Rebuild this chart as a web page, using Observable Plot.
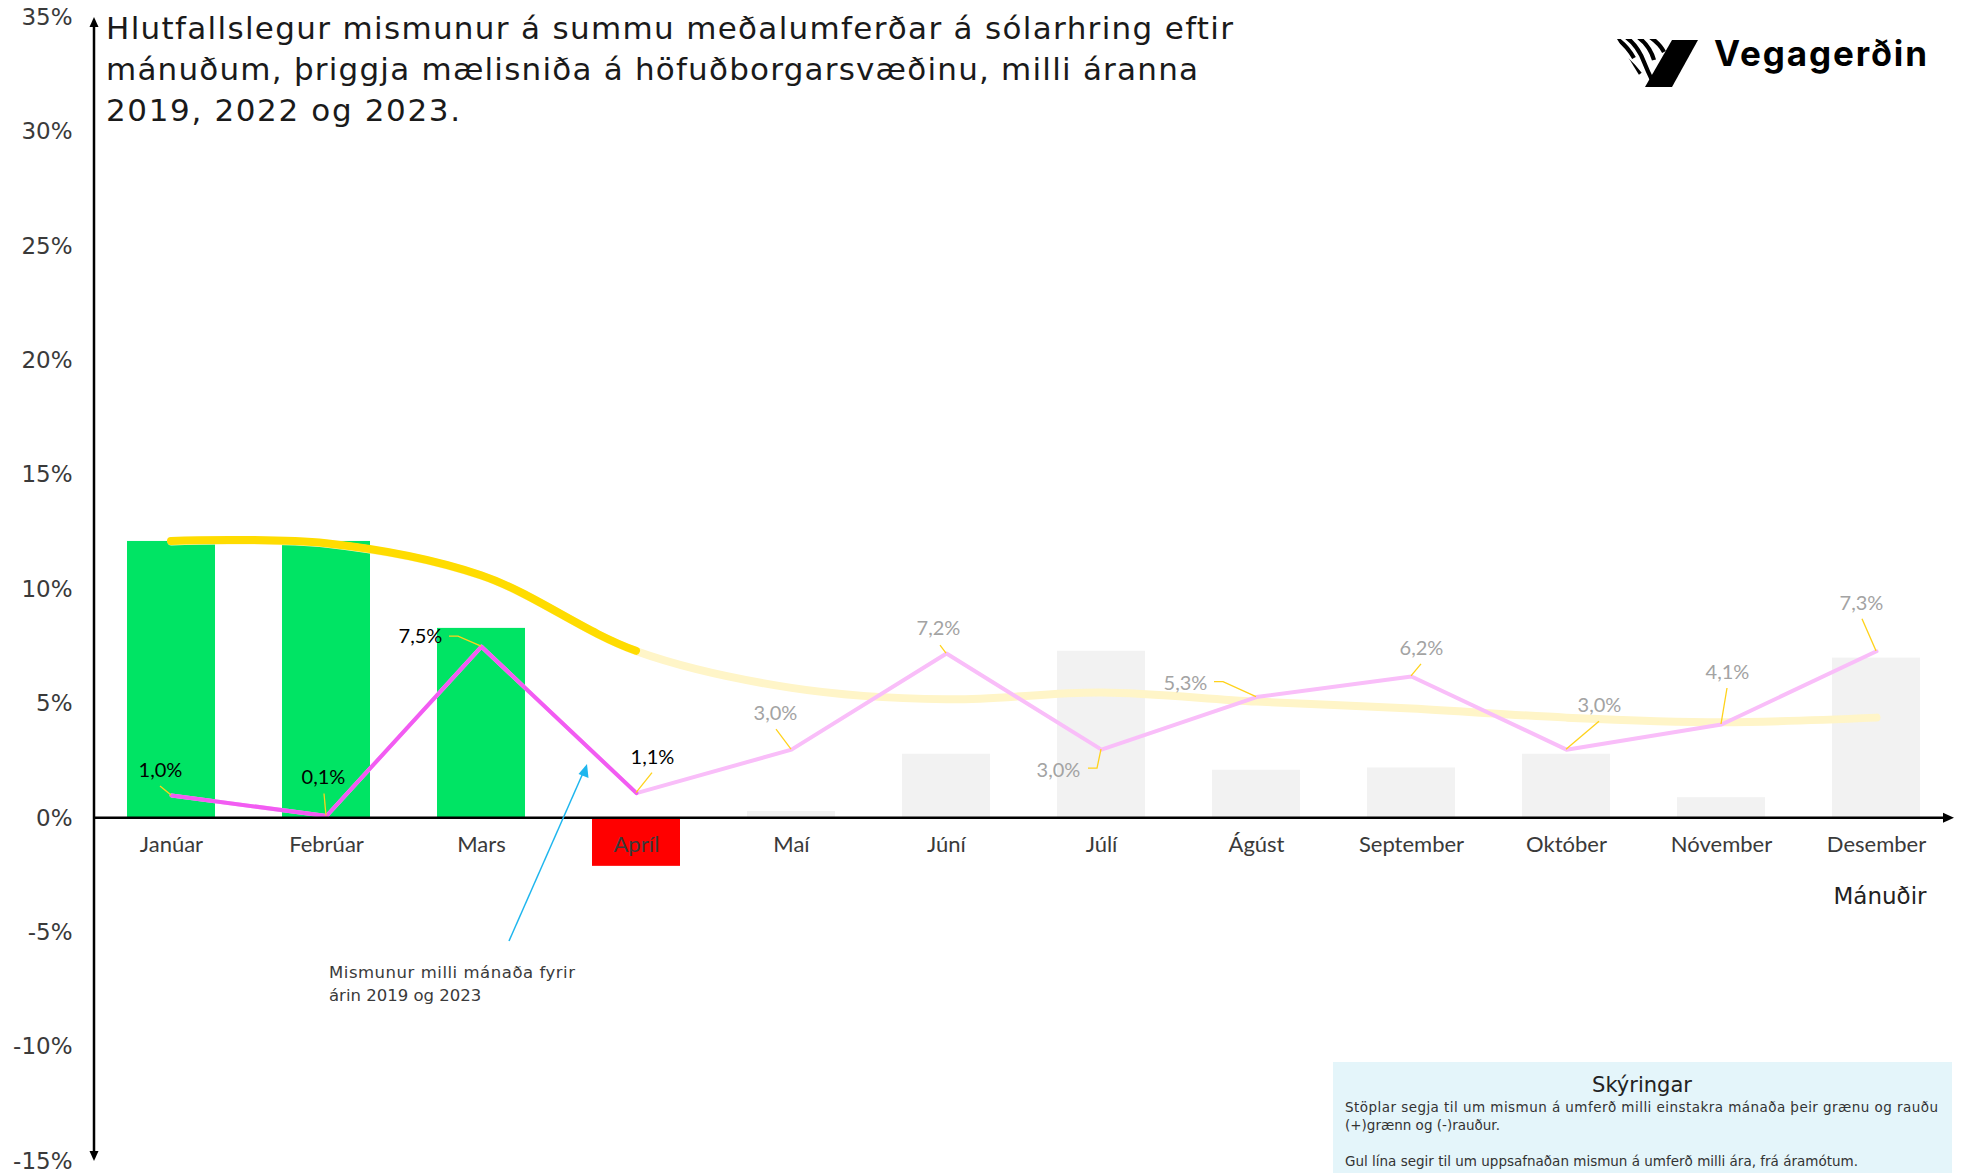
<!DOCTYPE html>
<html>
<head>
<meta charset="utf-8">
<script src="https://cdn.jsdelivr.net/npm/d3@7"></script>
<script src="https://cdn.jsdelivr.net/npm/@observablehq/plot@0.6"></script>
<style>
  html, body { margin: 0; padding: 0; background: #ffffff; }
  #wrap { position: relative; width: 1962px; height: 1173px; overflow: hidden; background: #ffffff; }
  #chart { position: absolute; left: 0; top: 0; }
  #overlay { position: absolute; left: 0; top: 0; pointer-events: none; }
</style>
</head>
<body>
<div id="wrap">
  <div id="chart"></div>
  <svg id="overlay" width="1962" height="1173" xmlns="http://www.w3.org/2000/svg">
    <!-- Title -->
    <g font-family="DejaVu Sans, sans-serif" font-size="31" fill="#1a1a1a">
      <text x="106" y="39" textLength="1127" lengthAdjust="spacing">Hlutfallslegur mismunur á summu meðalumferðar á sólarhring eftir</text>
      <text x="106" y="80" textLength="1092" lengthAdjust="spacing">mánuðum, þriggja mælisniða á höfuðborgarsvæðinu, milli áranna</text>
      <text x="106" y="121" textLength="354" lengthAdjust="spacing">2019, 2022 og 2023.</text>
    </g>
    <!-- Logo -->
    <defs>
      <clipPath id="logoClip">
        <polygon points="1617,39 1676,39 1647,88"/>
      </clipPath>
    </defs>
    <polygon points="1672,40 1698,40 1672,87 1645,87" fill="#000"/>
    <g clip-path="url(#logoClip)" stroke="#000" stroke-width="4.2" fill="none" stroke-linecap="butt">
      <path d="M1614,37 Q1626,44 1634,58"/>
      <path d="M1626,37 Q1638,46 1644,62 Q1648,72 1652,80"/>
      <path d="M1638,37 Q1650,46 1654,60"/>
      <path d="M1650,37 Q1660,44 1664,52"/>
      <path d="M1612,50 Q1626,56 1640,74"/>
    </g>
    <text x="1714" y="66" font-family="Inter, Lato, sans-serif" font-weight="700" font-size="35" fill="#000" textLength="213" lengthAdjust="spacing">Vegagerðin</text>
    <!-- X axis title -->
    <text x="1880" y="904" text-anchor="middle" font-family="DejaVu Sans, sans-serif" font-size="23" fill="#222">Mánuðir</text>
    <!-- Annotation -->
    <line x1="509" y1="941" x2="583" y2="773" stroke="#1EB6EE" stroke-width="1.5"/>
    <polygon points="587,764 588.5,778 578.5,774" fill="#1EB6EE"/>
    <g font-family="DejaVu Sans, sans-serif" font-size="16.5" fill="#3a3a3a">
      <text x="329" y="978" textLength="246" lengthAdjust="spacing">Mismunur milli mánaða fyrir</text>
      <text x="329" y="1001">árin 2019 og 2023</text>
    </g>
    <!-- Legend box -->
    <rect x="1333" y="1062" width="619" height="111" fill="#E4F5FA"/>
    <text x="1642" y="1092" text-anchor="middle" font-family="DejaVu Sans, sans-serif" font-size="21" fill="#222">Skýringar</text>
    <g font-family="DejaVu Sans, sans-serif" font-size="13.5" fill="#333">
      <text x="1345" y="1112" textLength="593" lengthAdjust="spacing">Stöplar segja til um mismun á umferð milli einstakra mánaða  þeir grænu og rauðu</text>
      <text x="1345" y="1130">(+)grænn og (-)rauður.</text>
      <text x="1345" y="1166">Gul lína segir til um uppsafnaðan mismun á umferð milli ára, frá áramótum.</text>
    </g>
  </svg>
</div>
<script>
// ---------------- DATA ----------------
const months = ["Janúar", "Febrúar", "Mars", "Apríl", "Maí", "Júní", "Júlí", "Ágúst", "September", "Október", "Nóvember", "Desember"];
// Bars: difference between individual months (%)
const monthlyDiff = [12.1, 12.1, 8.3, -2.1, 0.3, 2.8, 7.3, 2.1, 2.2, 2.8, 0.9, 7.0];
// Pink line: difference between months for 2019 and 2023 (%)
const diff2019to2023 = [1.0, 0.1, 7.5, 1.1, 3.0, 7.2, 3.0, 5.3, 6.2, 3.0, 4.1, 7.3];
const diffLabels = ["1,0%", "0,1%", "7,5%", "1,1%", "3,0%", "7,2%", "3,0%", "5,3%", "6,2%", "3,0%", "4,1%", "7,3%"];
// Yellow line: cumulative difference since start of year (%)
const cumulativeDiff = [12.1, 12.0, 10.6, 7.3, 5.7, 5.2, 5.5, 5.1, 4.8, 4.4, 4.2, 4.4];
// Y tick values (%)
const yTicks = [-15, -10, -5, 0, 5, 10, 15, 20, 25, 30, 35];
// Number of months with current data (highlighted)
const activeMonths = 4;

// ---------------- LAYOUT (pixel offsets of point labels / leader lines) ----------------
const labelOffsets = [[-11, -25], [-3, -38], [-61, -10], [16, -36], [-16, -36], [-8, -25], [-43, 21], [-71, -13], [10, -28], [33, -44], [6, -52], [-15, -48]];
const leaderPaths = [
  [[-11, -9]],
  [[-2, -22]],
  [[-32, -10], [-23, -10]],
  [[16, -20]],
  [[-15, -20]],
  [[-6, -8]],
  [[-13, 19], [-4, 19]],
  [[-42, -15], [-33, -15]],
  [[10, -12]],
  [[33, -28]],
  [[6, -36]],
  [[-14, -32]]
];

const idx = d3.range(months.length);
const activeIdx = idx.slice(0, activeMonths);

const GREEN = "#00E464", RED = "#FF0000", GREY = "#F2F2F2";
const GOLD = "#FFDC00", PALE_GOLD = "#FFF5C8";
const MAGENTA = "#F25CF2", PALE_PINK = "#F9BEF9";

function barColor(i) {
  if (i >= activeMonths) return GREY;
  return monthlyDiff[i] >= 0 ? GREEN : RED;
}

function bandCenter(xs) {
  const bw = xs.bandwidth ? xs.bandwidth() : 0;
  return m => xs(m) + bw / 2;
}

// Year-to-date part of the cumulative curve: same catmull-rom segments as the full curve,
// drawn up to the last active month.
function cumulativeYtd(index, scales) {
  const cx = bandCenter(scales.x), ys = scales.y;
  const n = Math.min(activeMonths + 1, months.length);
  const pts = d3.range(n).map(i => [cx(months[i]), ys(cumulativeDiff[i])]);
  let d = d3.line().curve(d3.curveCatmullRom)(pts);
  if (n > activeMonths) {
    const parts = d.split("C");
    d = parts.slice(0, activeMonths).join("C");
  }
  const g = d3.create("svg:g");
  g.append("path").attr("d", d).attr("fill", "none").attr("stroke", GOLD)
    .attr("stroke-width", 8).attr("stroke-linecap", "round");
  return g.node();
}

// Axes with arrows and label leader lines, using Plot's scales
function axesAndLeaders(index, scales, values, dimensions) {
  const cx = bandCenter(scales.x), ys = scales.y;
  const g = d3.create("svg:g");
  leaderPaths.forEach((pts, i) => {
    const px = cx(months[i]), py = ys(diff2019to2023[i]);
    const coords = pts.map(([dx, dy]) => [px + dx, py + dy]).concat([[px, py]]);
    g.append("path")
      .attr("d", d3.line()(coords))
      .attr("fill", "none")
      .attr("stroke", "#FFD21A")
      .attr("stroke-width", 1.3);
  });
  const x0 = dimensions.marginLeft;
  const xEnd = dimensions.width - dimensions.marginRight;
  const y0 = ys(0), yTop = ys(yTicks[yTicks.length - 1]), yBot = ys(yTicks[0]);
  g.append("line").attr("x1", x0).attr("x2", x0).attr("y1", yTop + 8).attr("y2", yBot - 8)
    .attr("stroke", "#000").attr("stroke-width", 2.5);
  g.append("polygon").attr("points", `${x0},${yTop} ${x0 - 4.5},${yTop + 10} ${x0 + 4.5},${yTop + 10}`).attr("fill", "#000");
  g.append("polygon").attr("points", `${x0},${yBot} ${x0 - 4.5},${yBot - 10} ${x0 + 4.5},${yBot - 10}`).attr("fill", "#000");
  g.append("line").attr("x1", x0).attr("x2", xEnd - 10).attr("y1", y0).attr("y2", y0)
    .attr("stroke", "#000").attr("stroke-width", 2.5);
  g.append("polygon").attr("points", `${xEnd},${y0} ${xEnd - 11},${y0 - 5} ${xEnd - 11},${y0 + 5}`).attr("fill", "#000");
  return g.node();
}

const chart = Plot.plot({
  width: 1962,
  height: 1173,
  marginLeft: 94,
  marginRight: 8,
  marginTop: 17,
  marginBottom: 12,
  x: { type: "band", domain: months, paddingInner: 0.43, paddingOuter: 0.215, axis: null },
  y: { domain: [yTicks[0], yTicks[yTicks.length - 1]], axis: null },
  style: { background: "transparent", overflow: "visible" },
  marks: [
    // bars
    Plot.barY(idx, { x: i => months[i], y: i => monthlyDiff[i], fill: i => barColor(i) }),
    // cumulative (yellow) line: full curve pale, year-to-date part gold
    Plot.line(idx, { x: i => months[i], y: i => cumulativeDiff[i], stroke: PALE_GOLD, strokeWidth: 8, curve: "catmull-rom", strokeLinecap: "round" }),
    cumulativeYtd,
    // 2019 vs 2023 (pink) line
    Plot.line(idx, { x: i => months[i], y: i => diff2019to2023[i], stroke: PALE_PINK, strokeWidth: 4 }),
    Plot.line(activeIdx, { x: i => months[i], y: i => diff2019to2023[i], stroke: MAGENTA, strokeWidth: 4 }),
    // axes + leaders
    axesAndLeaders,
    // y tick labels
    Plot.text(yTicks, { y: d => d, text: d => d + "%", frameAnchor: "left", dx: -22, textAnchor: "end", fontSize: 23, fill: "#3a3a3a", fontFamily: "DejaVu Sans" }),
    // x tick labels (month names) along the zero line
    Plot.text(idx, { x: i => months[i], y: () => 0, text: i => months[i], dy: 27, fontSize: 22, fill: "#3a3a3a", fontFamily: "Lato" }),
    // point labels
    ...idx.map(i => Plot.text([i], {
      x: j => months[j], y: j => diff2019to2023[j], text: j => diffLabels[j],
      dx: labelOffsets[i][0], dy: labelOffsets[i][1],
      fontSize: 20, fontFamily: "Lato",
      fill: i < activeMonths ? "#000000" : "#A3A3A3"
    }))
  ]
});

document.getElementById("chart").appendChild(chart);
</script>
</body>
</html>
